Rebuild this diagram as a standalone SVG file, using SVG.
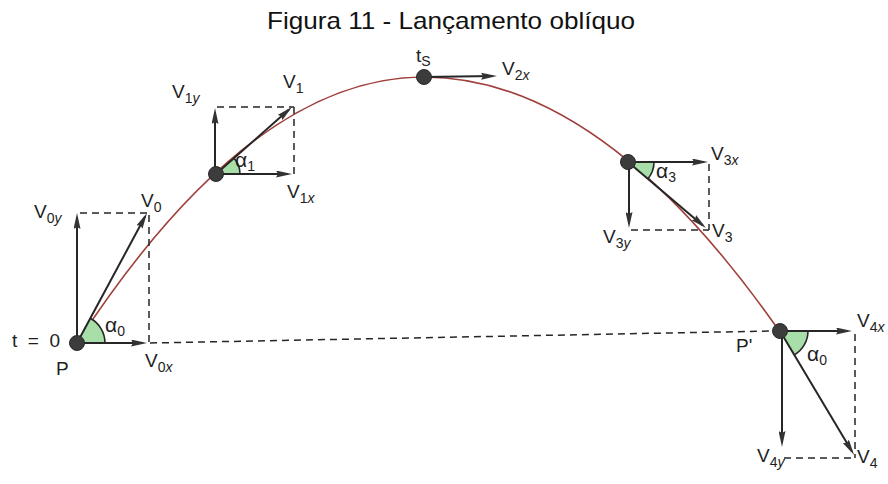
<svg xmlns="http://www.w3.org/2000/svg" width="888" height="484" viewBox="0 0 888 484">
<style>
.ln{stroke:#262626;stroke-width:2;fill:none}
.ar{stroke:#262626;stroke-width:2;fill:none;marker-end:url(#ah)}
.ds{stroke:#262626;stroke-width:1.5;fill:none;stroke-dasharray:7 5}
.dot{fill:#3c3c3c;stroke:#2a2a2a;stroke-width:1}
.wedge{fill:#a8dea8;stroke:none}
.arc{fill:none;stroke:#262626;stroke-width:1.6}
.lb{font-family:"Liberation Sans",Arial,sans-serif;font-size:19px;fill:#1e1e1e}
.al{font-size:21px}
.sb{font-size:14px}
.it{font-style:italic}
.title{font-family:"Liberation Sans",Arial,sans-serif;font-size:24px;fill:#111}
</style>
<defs>
<marker id="ah" markerUnits="userSpaceOnUse" markerWidth="16" markerHeight="7" viewBox="0 0 16 7" refX="12" refY="3.5" orient="auto">
<path d="M0,0 L16,3.5 L0,7 L2,3.5 z" fill="#333"/>
</marker>
</defs>
<rect width="888" height="484" fill="#fff"/>
<text class="title" x="451" y="29" text-anchor="middle" textLength="368" lengthAdjust="spacingAndGlyphs">Figura 11 - Lançamento oblíquo</text>

<g id="connectors">
<path d="M77,343 Q250.5,77 424,77 Q602,77 780,332" fill="none" stroke="#a0403c" stroke-width="1.6"/>
<line class="ds" x1="150" y1="343" x2="772" y2="331"/>
</g>

<g id="node-P">
<path class="wedge" d="M77,343 L105,343 A28,28 0 0,0 90.2,318.3 Z"/>
<path class="arc" d="M105,343 A28,28 0 0,0 90.2,318.3"/>
<line class="ds" x1="80" y1="213" x2="148" y2="213"/>
<line class="ds" x1="149" y1="215" x2="149" y2="343"/>
<line class="ar" x1="77" y1="343" x2="77" y2="217"/>
<line class="ar" x1="77" y1="343" x2="145.1" y2="216.5"/>
<line class="ar" x1="77" y1="343" x2="143" y2="343"/>
<circle class="dot" cx="77" cy="343" r="7.5"/>
<text class="lb" x="34" y="218">V<tspan class="sb" dy="5">0<tspan class="it">y</tspan></tspan></text>
<text class="lb" x="141" y="207">V<tspan class="sb" dy="5">0</tspan></text>
<text class="lb" x="12" y="347" textLength="48" lengthAdjust="spacing">t = 0</text>
<text class="lb" x="56" y="375" font-size="21">P</text>
<text class="lb" x="145" y="367">V<tspan class="sb" dy="5">0<tspan class="it">x</tspan></tspan></text>
<text class="lb" x="105" y="332"><tspan class="al">α</tspan><tspan class="sb" dy="4">0</tspan></text>
</g>

<g id="node-P1">
<path class="wedge" d="M216,174 L240,174 A24,24 0 0,0 234,158.1 Z"/>
<path class="arc" d="M240,174 A24,24 0 0,0 234,158.1"/>
<line class="ds" x1="217" y1="107" x2="294" y2="107"/>
<line class="ds" x1="294" y1="107" x2="294" y2="174"/>
<line class="ar" x1="215" y1="174" x2="215" y2="112"/>
<line class="ar" x1="216" y1="174" x2="289" y2="109.6"/>
<line class="ar" x1="216" y1="174" x2="288" y2="174"/>
<circle class="dot" cx="216" cy="174" r="7.5"/>
<text class="lb" x="172" y="98">V<tspan class="sb" dy="5">1<tspan class="it">y</tspan></tspan></text>
<text class="lb" x="283" y="88">V<tspan class="sb" dy="5">1</tspan></text>
<text class="lb" x="287" y="198">V<tspan class="sb" dy="5">1<tspan class="it">x</tspan></tspan></text>
<text class="lb" x="235" y="167"><tspan class="al">α</tspan><tspan class="sb" dy="4">1</tspan></text>
</g>

<g id="node-ts">
<line class="ar" x1="424" y1="77" x2="493" y2="76"/>
<circle class="dot" cx="424" cy="77" r="7.5"/>
<text class="lb" x="416" y="62">t<tspan class="sb" dy="4">S</tspan></text>
<text class="lb" x="502" y="75">V<tspan class="sb" dy="5">2<tspan class="it">x</tspan></tspan></text>
</g>

<g id="node-P3">
<path class="wedge" d="M628,162 L654,162 A26,26 0 0,1 647.9,178.8 Z"/>
<path class="arc" d="M654,162 A26,26 0 0,1 647.9,178.8"/>
<line class="ds" x1="631" y1="230" x2="709" y2="230"/>
<line class="ds" x1="709" y1="164" x2="709" y2="230"/>
<line class="ar" x1="628" y1="162" x2="704" y2="162"/>
<line class="ar" x1="629" y1="162" x2="629" y2="224"/>
<line class="ar" x1="628" y1="162" x2="702.9" y2="225.4"/>
<circle class="dot" cx="628" cy="162" r="7.5"/>
<text class="lb" x="711" y="160">V<tspan class="sb" dy="5">3<tspan class="it">x</tspan></tspan></text>
<text class="lb" x="712" y="237">V<tspan class="sb" dy="5">3</tspan></text>
<text class="lb" x="603" y="243">V<tspan class="sb" dy="5">3<tspan class="it">y</tspan></tspan></text>
<text class="lb" x="656" y="178"><tspan class="al">α</tspan><tspan class="sb" dy="4">3</tspan></text>
</g>

<g id="node-P2">
<path class="wedge" d="M780,331 L808,331 A28,28 0 0,1 794.5,354.9 Z"/>
<path class="arc" d="M808,331 A28,28 0 0,1 794.5,354.9"/>
<line class="ds" x1="855" y1="334" x2="855" y2="458"/>
<line class="ds" x1="784" y1="458" x2="856" y2="458"/>
<line class="ar" x1="780" y1="331" x2="848" y2="331"/>
<line class="ar" x1="782" y1="331" x2="782" y2="443"/>
<line class="ar" x1="780" y1="331" x2="852" y2="451.6"/>
<circle class="dot" cx="780" cy="331" r="7.5"/>
<text class="lb" x="857" y="327">V<tspan class="sb" dy="5">4<tspan class="it">x</tspan></tspan></text>
<text class="lb" x="736" y="352" font-size="21">P'</text>
<text class="lb" x="807" y="361"><tspan class="al">α</tspan><tspan class="sb" dy="4">0</tspan></text>
<text class="lb" x="757" y="462">V<tspan class="sb" dy="5">4<tspan class="it">y</tspan></tspan></text>
<text class="lb" x="857" y="463">V<tspan class="sb" dy="5">4</tspan></text>
</g>
</svg>
